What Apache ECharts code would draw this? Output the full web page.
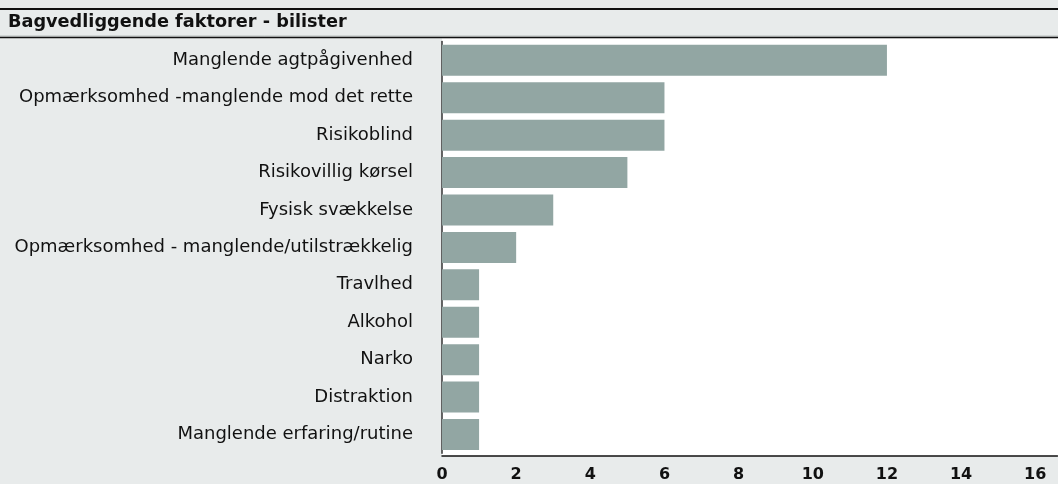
<!DOCTYPE html>
<html>
<head>
<meta charset="utf-8">
<script src="https://cdn.jsdelivr.net/npm/echarts@6/dist/echarts.min.js"></script>
<style>
html,body{margin:0;padding:0;background:#e8ebeb;}
#c{width:1058px;height:484px;}
</style>
</head>
<body>
<div id="c"></div>
<script>
const title = 'Bagvedliggende faktorer - bilister';
const categories = [
  'Manglende agtpågivenhed',
  'Opmærksomhed -manglende mod det rette',
  'Risikoblind',
  'Risikovillig kørsel',
  'Fysisk svækkelse',
  'Opmærksomhed - manglende/utilstrækkelig',
  'Travlhed',
  'Alkohol',
  'Narko',
  'Distraktion',
  'Manglende erfaring/rutine'
];
const values = [12, 6, 6, 5, 3, 2, 1, 1, 1, 1, 1];
const xTicks = [0, 2, 4, 6, 8, 10, 12, 14, 16];

const FONT = '"DejaVu Sans", sans-serif';
const chart = echarts.init(document.getElementById('c'), null, {renderer: 'canvas'});
chart.setOption({
  backgroundColor: '#e8ebeb',
  animation: false,
  graphic: [
    {type: 'line', shape: {x1: 0, y1: 9, x2: 1058, y2: 9}, style: {stroke: '#111', lineWidth: 2}, z: 1},
    {type: 'line', shape: {x1: 0, y1: 36, x2: 1058, y2: 36}, style: {stroke: '#b8bebd', lineWidth: 1}, z: 1},
    {type: 'line', shape: {x1: 0, y1: 37.5, x2: 1058, y2: 37.5}, style: {stroke: '#111', lineWidth: 1.5}, z: 1},
    {type: 'text', left: 8, top: 13, style: {text: title, font: 'bold 17.7px ' + FONT, fill: '#111'}, z: 2},
    {type: 'rect', shape: {x: 442, y: 38.5, width: 616, height: 417.5}, style: {fill: '#ffffff'}, z: -1}
  ],
  grid: {left: 442, right: 0.5, top: 41.6, height: 411.6, containLabel: false},
  xAxis: {
    type: 'value', min: 0, max: 16.6, interval: 2, offset: 3,
    axisLine: {show: true, lineStyle: {color: '#111', width: 1.5}},
    axisTick: {show: false},
    splitLine: {show: false},
    axisLabel: {
      showMaxLabel: false, margin: 11,
      fontFamily: FONT, fontWeight: 'bold', fontSize: 16, color: '#111',
      formatter: v => xTicks.includes(v) ? String(v) : ''
    }
  },
  yAxis: {
    type: 'category', data: categories, inverse: true,
    axisLine: {show: true, lineStyle: {color: '#333', width: 1.5}},
    axisTick: {show: false},
    axisLabel: {margin: 29, fontFamily: FONT, fontSize: 18, color: '#111'}
  },
  series: [{
    type: 'bar', data: values, barWidth: 31,
    itemStyle: {color: '#92a6a3'},
    silent: true
  }]
});
</script>
</body>
</html>
